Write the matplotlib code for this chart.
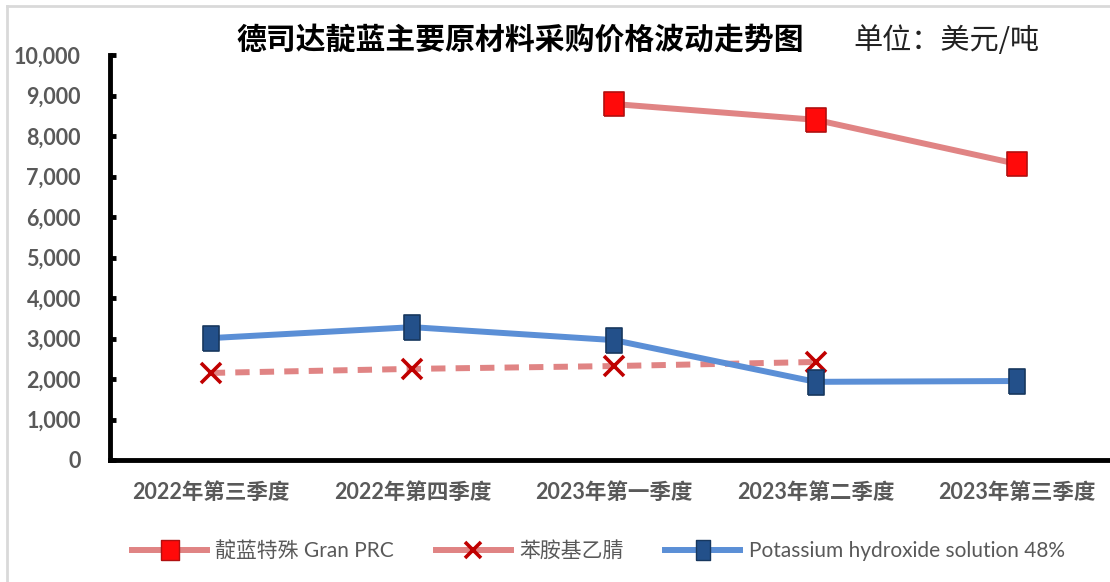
import matplotlib
matplotlib.use('Agg')
import matplotlib.pyplot as plt
from matplotlib.lines import Line2D
from matplotlib.ticker import FuncFormatter

plt.rcParams['font.family'] = ['Lato', 'Noto Sans CJK SC', 'DejaVu Sans']

quarters = ['2022年第三季度', '2022年第四季度', '2023年第一季度', '2023年第二季度', '2023年第三季度']
x = list(range(len(quarters)))

# 靛蓝特殊 Gran PRC 只有后三个季度
indigo_x = [2, 3, 4]
indigo = [8790, 8400, 7310]
aniline = [2150, 2250, 2320, 2420]
koh = [3010, 3280, 2960, 1930, 1950]

red_line = '#E08484'
blue_line = '#5B8FD6'
grey_txt = '#595959'

# 带比例的矩形标记
red_box = [(-0.44, -0.5), (0.44, -0.5), (0.44, 0.5), (-0.44, 0.5), (-0.44, -0.5)]
blue_box = [(-0.32, -0.5), (0.32, -0.5), (0.32, 0.5), (-0.32, 0.5), (-0.32, -0.5)]

fig = plt.figure(figsize=(11.1, 5.82), dpi=100)
ax = fig.add_axes([110 / 1110, 122 / 582, 1008 / 1110, 405 / 582])

ax.plot(indigo_x, indigo, color=red_line, linewidth=4.3, marker=red_box,
        markersize=17, markerfacecolor='#FF0A0A', markeredgecolor='#B01010',
        markeredgewidth=1.2, label='靛蓝特殊 Gran PRC', zorder=3)
ax.plot(x[:4], aniline, color=red_line, linewidth=4.3, dashes=(2.4, 1.7),
        marker='x', markersize=15, markeredgecolor='#C00000',
        markeredgewidth=2.6, label='苯胺基乙腈', zorder=3)
ax.plot(x, koh, color=blue_line, linewidth=4.3, marker=blue_box,
        markersize=18, markerfacecolor='#23508A', markeredgecolor='#17375E',
        markeredgewidth=1.2, label='Potassium hydroxide solution 48%', zorder=3)

ax.set_xlim(-0.5, 4.5)
ax.set_ylim(0, 10000)
ax.set_yticks(range(0, 10001, 1000))
ax.yaxis.set_major_formatter(FuncFormatter(lambda v, p: f'{int(v):,}'))
ax.set_xticks(x)
ax.set_xticklabels(quarters)

for s in ['top', 'right']:
    ax.spines[s].set_visible(False)
for s in ['left', 'bottom']:
    ax.spines[s].set_linewidth(3.5)
    ax.spines[s].set_color('black')

ax.tick_params(axis='y', direction='in', length=4, width=3.5, pad=21,
               labelsize=15.5, labelcolor=grey_txt)
ax.tick_params(axis='x', length=0, pad=16, labelsize=15.5, labelcolor=grey_txt)
for lab in ax.get_xticklabels() + ax.get_yticklabels():
    lab.set_fontweight('bold')

fig.text(0.469, 0.932, '德司达靛蓝主要原材料采购价格波动走势图', ha='center', va='center',
         fontsize=21.5, fontweight='bold', family=['Noto Sans CJK SC'])
fig.text(0.853, 0.93, '单位：美元/吨', ha='center', va='center',
         fontsize=21, family=['Noto Sans CJK SC'], color='#222222')

handles = [
    Line2D([], [], color=red_line, linewidth=4.3, marker=red_box, markersize=15,
           markerfacecolor='#FF0A0A', markeredgecolor='#B01010'),
    Line2D([], [], color=red_line, linewidth=4.3, marker='x', markersize=12,
           markeredgecolor='#C00000', markeredgewidth=2.6),
    Line2D([], [], color=blue_line, linewidth=4.3, marker=blue_box, markersize=15,
           markerfacecolor='#23508A', markeredgecolor='#17375E'),
]
leg = fig.legend(handles, ['靛蓝特殊 Gran PRC', '苯胺基乙腈', 'Potassium hydroxide solution 48%'],
                 loc='center', bbox_to_anchor=(0.539, 0.053), ncol=3, frameon=False,
                 handlelength=3.6, columnspacing=2.0, handletextpad=0.4,
                 prop={'family': ['Lato', 'Noto Sans CJK SC'], 'size': 15})
for t in leg.get_texts():
    t.set_color(grey_txt)

# 外框的浅灰边
fig.add_artist(Line2D([7 / 1110, 7 / 1110], [0, 1 - 6 / 582], color='#D9D9D9', linewidth=2,
                      transform=fig.transFigure))
fig.add_artist(Line2D([7 / 1110, 1], [1 - 6 / 582, 1 - 6 / 582], color='#D9D9D9', linewidth=2,
                      transform=fig.transFigure))

fig.savefig('out.png', dpi=100)
